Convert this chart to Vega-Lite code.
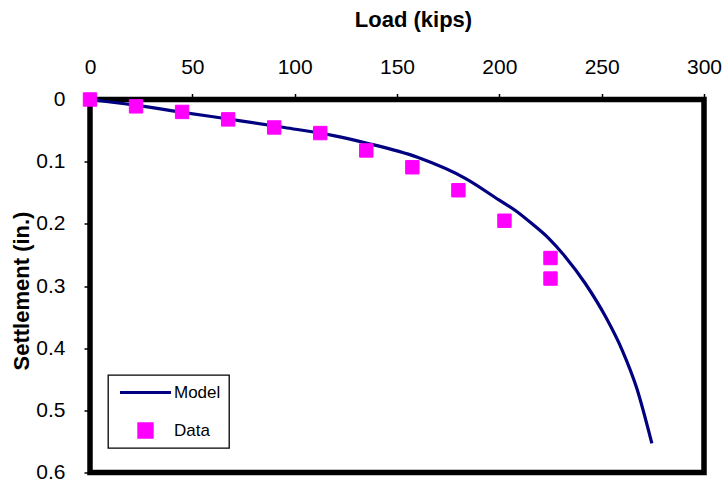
{
  "$schema": "https://vega.github.io/schema/vega-lite/v6.json",
  "width": 614,
  "height": 373,
  "autosize": "none",
  "padding": {"left": 90, "top": 99.5, "right": 19, "bottom": 12.5},
  "background": "white",
  "config": {
    "font": "Liberation Sans",
    "view": {"stroke": "black", "strokeWidth": 5.5},
    "axis": {
      "domain": false,
      "grid": false,
      "tickColor": "black",
      "tickWidth": 1.5,
      "tickSize": 6,
      "labelFont": "Liberation Sans",
      "labelFontSize": 21,
      "labelColor": "black",
      "labelFlush": false,
      "titleFont": "Liberation Sans",
      "titleFontSize": 22,
      "titleFontWeight": "bold",
      "titleColor": "black"
    },
    "legend": {
      "orient": "none",
      "legendX": 18,
      "legendY": 275.5,
      "strokeColor": "black",
      "strokeWidth": 1.3,
      "fillColor": "white",
      "padding": 8.5,
      "labelFont": "Liberation Sans",
      "labelFontSize": 17,
      "labelColor": "black",
      "labelOffset": 1.5,
      "symbolOffset": 2,
      "symbolStrokeWidth": 3,
      "clipHeight": 18,
      "rowPadding": 20
    }
  },
  "datasets": {
    "model": [
      {"load": 0, "settlement": 0},
      {"load": 22, "settlement": 0.009},
      {"load": 46, "settlement": 0.021},
      {"load": 71, "settlement": 0.033},
      {"load": 95, "settlement": 0.045},
      {"load": 119, "settlement": 0.058},
      {"load": 135, "settlement": 0.07},
      {"load": 160, "settlement": 0.093},
      {"load": 184, "settlement": 0.128},
      {"load": 200, "settlement": 0.162},
      {"load": 208, "settlement": 0.179},
      {"load": 216, "settlement": 0.2},
      {"load": 224, "settlement": 0.223},
      {"load": 232, "settlement": 0.252},
      {"load": 242, "settlement": 0.296},
      {"load": 252, "settlement": 0.35},
      {"load": 260, "settlement": 0.403},
      {"load": 267, "settlement": 0.463},
      {"load": 274.5, "settlement": 0.553}
    ],
    "measured": [
      {"series": "Data", "load": 0, "settlement": 0},
      {"series": "Data", "load": 22.5, "settlement": 0.011},
      {"series": "Data", "load": 45, "settlement": 0.02},
      {"series": "Data", "load": 67.5, "settlement": 0.032},
      {"series": "Data", "load": 90, "settlement": 0.045},
      {"series": "Data", "load": 112.5, "settlement": 0.054},
      {"series": "Data", "load": 135, "settlement": 0.082},
      {"series": "Data", "load": 157.5, "settlement": 0.109},
      {"series": "Data", "load": 180, "settlement": 0.146},
      {"series": "Data", "load": 202.5, "settlement": 0.195},
      {"series": "Data", "load": 225, "settlement": 0.255},
      {"series": "Data", "load": 225, "settlement": 0.288}
    ]
  },
  "encoding": {
    "x": {
      "field": "load",
      "type": "quantitative",
      "scale": {"domain": [0, 300], "nice": false, "zero": false},
      "axis": {
        "orient": "top",
        "title": "Load (kips)",
        "values": [0, 50, 100, 150, 200, 250, 300],
        "labelPadding": 16,
        "titleX": 323,
        "titleY": -73.5,
        "titleBaseline": "alphabetic"
      }
    },
    "y": {
      "field": "settlement",
      "type": "quantitative",
      "scale": {"domain": [0, 0.6], "reverse": true, "nice": false},
      "axis": {
        "title": "Settlement (in.)",
        "values": [0, 0.1, 0.2, 0.3, 0.4, 0.5, 0.6],
        "format": "~g",
        "labelPadding": 19,
        "titleX": -62,
        "titleY": 191,
        "titleBaseline": "alphabetic"
      }
    }
  },
  "layer": [
    {
      "data": {"name": "model"},
      "mark": {"type": "line", "color": "#000080", "strokeWidth": 3.2, "interpolate": "monotone", "clip": false}
    },
    {
      "data": {"name": "measured"},
      "mark": {"type": "point", "filled": true, "opacity": 1, "strokeWidth": 1, "clip": false},
      "encoding": {
        "color": {
          "field": "series",
          "type": "nominal",
          "scale": {"domain": ["Model", "Data"], "range": ["#000080", "#ff00ff"]},
          "legend": {"title": null}
        },
        "stroke": {
          "field": "series",
          "type": "nominal",
          "scale": {"domain": ["Model", "Data"], "range": ["#000080", "#ff00ff"]},
          "legend": {"title": null}
        },
        "shape": {
          "field": "series",
          "type": "nominal",
          "scale": {"domain": ["Model", "Data"], "range": ["stroke", "square"]},
          "legend": {"title": null}
        },
        "size": {
          "field": "series",
          "type": "nominal",
          "scale": {"type": "ordinal", "domain": ["Model", "Data"], "range": [2600, 180]},
          "legend": {"title": null}
        }
      }
    }
  ]
}
